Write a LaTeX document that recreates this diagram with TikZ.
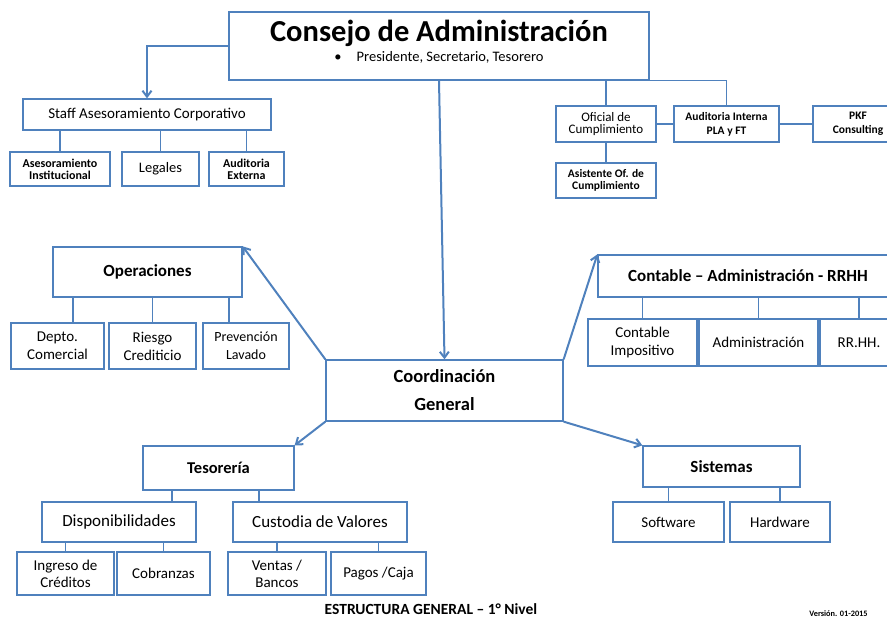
\documentclass[tikz,border=0pt]{standalone}
\usepackage{fontspec}
\setmainfont{Carlito}
\usetikzlibrary{arrows.meta,positioning,calc}
\definecolor{boxblue}{RGB}{79,129,189}
\newcommand{\fsz}[2]{\fontsize{#1}{#2}\selectfont}

\begin{document}
\begin{tikzpicture}[x=1pt, y=-1pt,
        box/.style={draw=boxblue, line width=1.3pt, align=center, inner sep=0pt},
        lnk/.style={draw=boxblue, line width=1.3pt},
        arr/.style={draw=boxblue, line width=2pt, -{Straight Barb[length=6pt,width=9pt]}}
        ]
        \useasboundingbox (0,0) rectangle (887,620);

        % consejo
        \node[box, minimum width=420pt, minimum height=68pt] (consejo) at (439,46) {};
        \node[font=\fsz{30.5}{32}\bfseries] (titulo) at (439,33) {Consejo de Administración};
        \node[font=\fsz{14.5}{16}] (miembros) at (439,57) {\textbullet\hspace{15pt}Presidente, Secretario, Tesorero};

        % staff
        \node[box, minimum width=248pt, minimum height=31pt, font=\fsz{15}{17}] (staff) at (147,114.5) {Staff Asesoramiento Corporativo};
        \node[box, minimum width=100pt, minimum height=34pt, font=\fsz{12}{12}\bfseries] (asesor) at (60,169) {Asesoramiento\\Institucional};
        \node[box, minimum width=77pt, minimum height=34pt, font=\fsz{14.5}{16}] (legales) at (160.5,169) {Legales};
        \node[box, minimum width=75pt, minimum height=34pt, font=\fsz{12}{12}\bfseries] (audext) at (246.5,169) {Auditoria\\Externa};

        % cumplimiento
        \node[box, minimum width=100pt, minimum height=36pt, font=\fsz{13}{12.5}] (oficial) at (606,124) {Oficial de\\Cumplimiento};
        \node[box, minimum width=105pt, minimum height=36pt, font=\fsz{11.5}{14}\bfseries] (audint) at (726.5,124) {Auditoria Interna\\PLA y FT};
        \node[box, minimum width=90pt, minimum height=36pt, font=\fsz{11.5}{14}\bfseries] (pkf) at (858,124) {PKF\\Consulting};
        \node[box, minimum width=100pt, minimum height=35pt, font=\fsz{11.5}{12}\bfseries] (asist) at (606,180.5) {Asistente Of. de\\Cumplimiento};

        % coordinacion
        \node[box, minimum width=237pt, minimum height=61pt, font=\fsz{18.5}{28}\bfseries] (coord) at (444.5,390.5) {Coordinación\\General};

        % operaciones
        \node[box, minimum width=189pt, minimum height=50pt, font=\fsz{17}{20}\bfseries] (oper) at (147.5,272) {Operaciones};
        \node[box, minimum width=93pt, minimum height=46pt, font=\fsz{15}{18}] (depto) at (57.5,346) {Depto.\\Comercial};
        \node[box, minimum width=87pt, minimum height=46pt, font=\fsz{15}{18}] (riesgo) at (152.5,346) {Riesgo\\Crediticio};
        \node[box, minimum width=86pt, minimum height=46pt, font=\fsz{14}{18}] (prev) at (246,346) {Prevención\\Lavado};

        % contable
        \node[box, minimum width=300pt, minimum height=42pt, font=\fsz{17}{20}\bfseries] (contable) at (748,276) {Contable – Administración - RRHH};
        \node[box, minimum width=109pt, minimum height=47pt, font=\fsz{15}{18}] (contimp) at (642.5,342.5) {Contable\\Impositivo};
        \node[box, minimum width=119pt, minimum height=47pt, font=\fsz{15}{18}] (admin) at (758.5,342.5) {Administración};
        \node[box, minimum width=78pt, minimum height=47pt, font=\fsz{15}{18}] (rrhh) at (859,342.5) {RR.HH.};

        % tesoreria
        \node[box, minimum width=151pt, minimum height=44pt, font=\fsz{16.5}{20}\bfseries] (teso) at (218.5,468) {Tesorería};
        \node[box, minimum width=154pt, minimum height=40pt, font=\fsz{17}{20}] (disp) at (119,522) {Disponibilidades};
        \node[box, minimum width=174pt, minimum height=40pt, font=\fsz{17}{20}] (cust) at (320,522) {Custodia de Valores};
        \node[box, minimum width=97pt, minimum height=43pt, font=\fsz{15}{17}] (ingreso) at (65.5,573.5) {Ingreso de\\Créditos};
        \node[box, minimum width=93pt, minimum height=43pt, font=\fsz{15}{17}] (cobr) at (163.5,573.5) {Cobranzas};
        \node[box, minimum width=98pt, minimum height=43pt, font=\fsz{15}{17}] (ventas) at (277,573.5) {Ventas /\\Bancos};
        \node[box, minimum width=95pt, minimum height=43pt, font=\fsz{15}{17}] (pagos) at (378.5,573.5) {Pagos /Caja};

        % sistemas
        \node[box, minimum width=157pt, minimum height=41pt, font=\fsz{17}{20}\bfseries] (sist) at (721.5,466.5) {Sistemas};
        \node[box, minimum width=111pt, minimum height=40pt, font=\fsz{15}{17}] (soft) at (668.5,522) {Software};
        \node[box, minimum width=100pt, minimum height=40pt, font=\fsz{15}{17}] (hard) at (780,522) {Hardware};

        % pie
        \node[font=\fsz{15.5}{17}\bfseries] (pie) at (431,609) {ESTRUCTURA GENERAL – 1° Nivel};
        \node[font=\fsz{8.3}{9}\bfseries] (version) at (838.5,614) {Versión. 01-2015};

        % lineas
        \foreach \c/\p in {asesor/staff,legales/staff,audext/staff,contimp/contable,admin/contable,rrhh/contable,
                           soft/sist,hard/sist,ingreso/disp,cobr/disp,ventas/cust,pagos/cust,riesgo/oper}
          \draw[lnk] (\c.north) -- (\c.north |- \p.south);
        \draw[lnk] ([xshift=15.5pt]depto.north) -- ([xshift=15.5pt]depto.north |- oper.south);
        \draw[lnk] ([xshift=-17pt]prev.north) -- ([xshift=-17pt]prev.north |- oper.south);
        \draw[lnk] ([xshift=53pt]disp.north) -- ([xshift=53pt]disp.north |- teso.south);
        \draw[lnk] ([xshift=-61pt]cust.north) -- ([xshift=-61pt]cust.north |- teso.south);
        \draw[lnk] (consejo.south -| oficial.north) -- (oficial.north);
        \draw[lnk] (consejo.south east) -| (audint.north);
        \draw[lnk] (oficial.east) -- (audint.west);
        \draw[lnk] (audint.east) -- (pkf.west);
        \draw[lnk] (oficial.south) -- (asist.north);

        % flechas
        \draw[arr] (consejo.west) -| (staff.north);
        \draw[arr] (consejo.south) -- (coord.north);
        \draw[arr] (coord.north west) -- (oper.north east);
        \draw[arr] (coord.north east) -- (contable.north west);
        \draw[arr] (coord.south west) -- (teso.north east);
        \draw[arr] (coord.south east) -- (sist.north west);
\end{tikzpicture}
\end{document}
